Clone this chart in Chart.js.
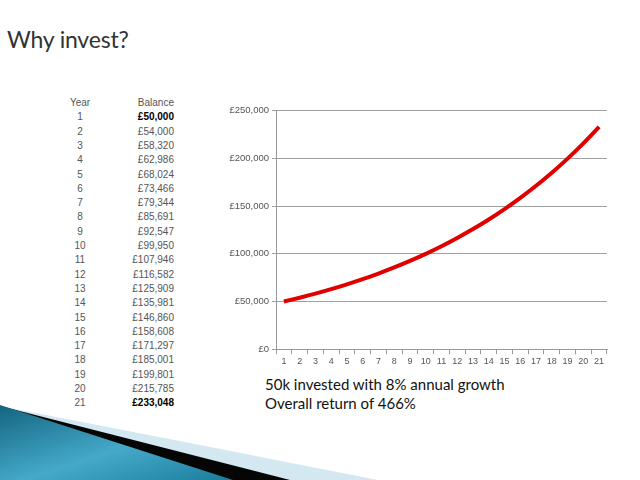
<!DOCTYPE html>
<html>
<head>
<meta charset="utf-8">
<script src="https://cdn.jsdelivr.net/npm/chart.js@4"></script>
<style>
  body { margin: 0; width: 640px; height: 480px; background: #fff; position: relative; overflow: hidden; font-family: "Liberation Sans", Arial, sans-serif; }
  #title { position: absolute; left: 7px; top: 25px; font-family: Lato, "Open Sans", sans-serif; font-size: 23px; letter-spacing: -0.2px; color: #333; }
  #tbl { position: absolute; left: 0; top: 0; font-size: 10px; color: #555; }
  #tbl div { position: absolute; height: 14px; line-height: 14px; white-space: nowrap; }
  #tbl .y { left: 50px; width: 60px; text-align: center; }
  #tbl .b { left: 100px; width: 74px; text-align: right; }
  #tbl .hl { color: #000; font-weight: bold; }
  #wrap { position: absolute; left: 210px; top: 102px; width: 400px; height: 267px; }
  #note { position: absolute; left: 265px; top: 375px; font-family: Lato, "Open Sans", sans-serif; font-size: 15px; line-height: 19px; color: #111; }
  #deco { position: absolute; left: 0; top: 0; }
</style>
</head>
<body>
<svg id="deco" width="640" height="480">
  <defs>
    <linearGradient id="blue" x1="0" y1="0" x2="1" y2="1">
      <stop offset="0" stop-color="#13657f"/>
      <stop offset="0.55" stop-color="#45a9ca"/>
      <stop offset="1" stop-color="#1a7d9c"/>
    </linearGradient>
  </defs>
  <polygon points="0,406 378,480 0,480" fill="#d3e8f0"/>
  <polygon points="0,406 290,480 0,480" fill="#050505"/>
  <polygon points="0,405 233,480 0,480" fill="url(#blue)"/>
</svg>
<div id="title">Why invest?</div>
<div id="tbl"></div>
<div id="wrap"><canvas id="chart"></canvas></div>
<div id="note">50k invested with 8% annual growth<br>Overall return of 466%</div>
<script>
const years = ['1','2','3','4','5','6','7','8','9','10','11','12','13','14','15','16','17','18','19','20','21'];
const balance = [50000, 54000, 58320, 62986, 68024, 73466, 79344, 85691, 92547, 99950, 107946, 116582, 125909, 135981, 146860, 158608, 171297, 185001, 199801, 215785, 233048];
const yTicks = [0, 50000, 100000, 150000, 200000, 250000];

const fmt = v => '£' + v.toLocaleString('en-GB');

// table on the left, one row every 14.3px
const tbl = document.getElementById('tbl');
const rowTop = i => (96 + i * 14.3).toFixed(1) + 'px';
let html = '<div class="y" style="top:' + rowTop(0) + '">Year</div><div class="b" style="top:' + rowTop(0) + '">Balance</div>';
years.forEach((y, i) => {
    const hl = (i === 0 || i === years.length - 1) ? ' hl' : '';
    html += '<div class="y" style="top:' + rowTop(i + 1) + '">' + y + '</div>';
    html += '<div class="b' + hl + '" style="top:' + rowTop(i + 1) + '">' + fmt(balance[i]) + '</div>';
});
tbl.innerHTML = html;

const ctx = document.getElementById('chart').getContext('2d');
new Chart(ctx, {
    type: 'line',
    data: {
        labels: years,
        datasets: [{
            label: 'Balance',
            data: balance,
            borderColor: '#e00000',
            borderWidth: 4,
            pointRadius: 0,
            tension: 0.3,
            fill: false
        }]
    },
    options: {
        responsive: true,
        maintainAspectRatio: false,
        animation: false,
        layout: { padding: { top: 0, right: 3, left: 0, bottom: 0 } },
        plugins: {
            legend: { display: false },
            tooltip: { enabled: false }
        },
        scales: {
            x: {
                offset: true,
                grid: { display: true, drawOnChartArea: false, drawTicks: true, tickLength: 5, offset: true, color: '#999' },
                border: { color: '#999' },
                ticks: { color: '#555', font: { size: 9, family: 'Liberation Sans' }, maxRotation: 0, autoSkip: false, padding: 2 }
            },
            y: {
                min: 0,
                max: 250000,
                afterBuildTicks: scale => { scale.ticks = yTicks.map(v => ({ value: v })); },
                afterFit: scale => { scale.width = 66; },
                grid: { color: '#a0a0a0', tickLength: 4 },
                border: { color: '#999' },
                ticks: { color: '#555', font: { size: 9.5, family: 'Liberation Sans' }, padding: 3, callback: v => fmt(v) }
            }
        }
    }
});
</script>
</body>
</html>
